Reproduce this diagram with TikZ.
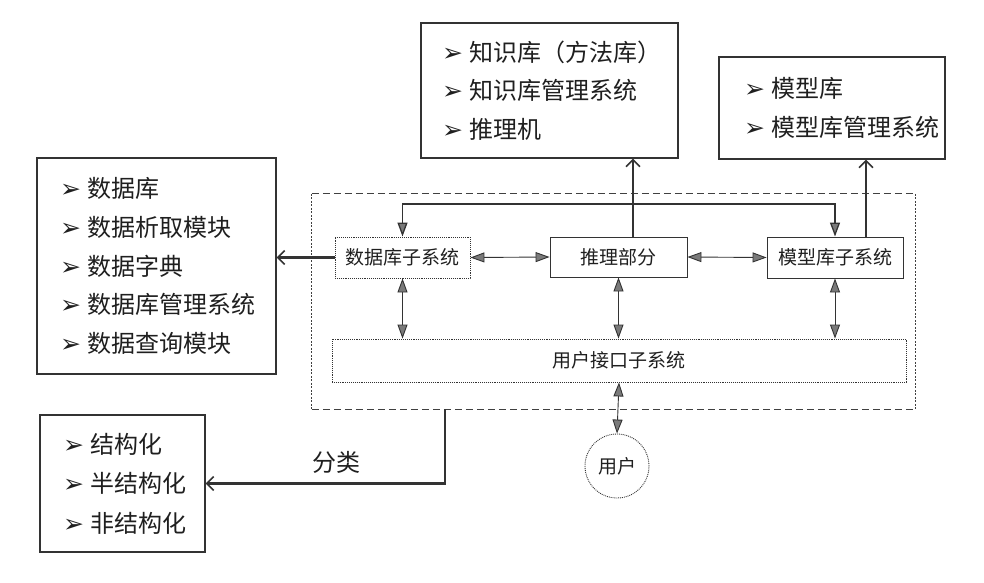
\documentclass[tikz,border=0pt]{standalone}
\usepackage{fontspec}
\setmainfont{Noto Sans CJK SC}
\newfontfamily\bulfont{DejaVu Sans}
\usetikzlibrary{arrows.meta}
\newcommand\listline[1]{\mbox{{\bulfont\fontsize{25}{25}\selectfont ➢}\hspace{7pt}#1}}
\definecolor{linec}{HTML}{333333}
\definecolor{tipc}{HTML}{7A7A7A}
\begin{document}
\begin{tikzpicture}[x=1pt,y=-1pt,
  every node/.style={text=black!88},
  lbox/.style={draw=linec, line width=1.1pt, inner ysep=0pt, inner xsep=23pt, align=left,
    font=\fontsize{24}{38.5}\selectfont},
  sbox/.style={draw=linec, line width=0.9pt, inner sep=0pt, font=\fontsize{19}{19}\selectfont},
  thickarr/.style={draw=linec, line width=2.2pt, -{Straight Barb[length=7pt,width=14pt,line width=1.6pt]}},
  dbl/.style={draw=linec, line width=0.9pt, {Triangle[length=14pt,width=10pt,fill=tipc]}-{Triangle[length=14pt,width=10pt,fill=tipc]}},
  outerline/.style={draw=black!75, line width=1pt}
]
\useasboundingbox (0,0) rectangle (984,582);

% outer dashed frame
\node[minimum width=603pt, minimum height=215pt, inner sep=0pt] (outer) at (613.5,301.5) {};
\draw[outerline, dash pattern=on 7pt off 4pt] (outer.north west) -- (outer.north east);
\draw[outerline, dash pattern=on 7pt off 4pt] (outer.south west) -- (outer.south east);
\draw[outerline, dash pattern=on 2pt off 1.5pt] (outer.north west) -- (outer.south west);
\draw[outerline, dash pattern=on 2pt off 1.5pt] (outer.north east) -- (outer.south east);

% outer list boxes
\node[lbox, inner xsep=21pt, text width=215pt, minimum height=135pt] (know) at (549.5,90.5)
  {\listline{知识库（方法库）}\\ \listline{知识库管理系统}\\ \listline{推理机}};
\node[lbox, inner xsep=25pt, text width=176pt, minimum height=102pt] (model) at (832,108)
  {\listline{模型库}\\ \listline{模型库管理系统}};
\node[lbox, text width=193pt, minimum height=216pt, font=\fontsize{24}{38.8}\selectfont] (data) at (156.5,266)
  {\listline{数据库}\\ \listline{数据析取模块}\\ \listline{数据字典}\\ \listline{数据库管理系统}\\ \listline{数据查询模块}};
\node[lbox, text width=119pt, minimum height=137pt, font=\fontsize{24}{39.5}\selectfont] (cat) at (122.5,483.5)
  {\listline{结构化}\\ \listline{半结构化}\\ \listline{非结构化}};

% inner boxes
\node[sbox, densely dotted, minimum width=135pt, minimum height=41pt] (dbs) at (402.5,257.5) {数据库子系统};
\node[sbox, minimum width=137pt, minimum height=40pt] (reason) at (618.5,257) {推理部分};
\node[sbox, minimum width=136pt, minimum height=41pt] (mod) at (835,257.5) {模型库子系统};
\node[sbox, densely dotted, minimum width=574pt, minimum height=43pt] (ui) at (619,360.5) {用户接口子系统};
\node[sbox, densely dotted, circle, minimum size=64pt] (user) at (617,466) {用户};

% label
\node[font=\fontsize{24}{24}\selectfont] (fenlei) at (336,462) {分类};

% connectors
\coordinate (looptop) at (0,204);
\coordinate (clsx) at (445,0);
\draw[thickarr] (dbs.west) -- (dbs.west -| data.east);
\draw[thickarr] ([xshift=14.5pt]reason.north) -- ([xshift=14.5pt]reason.north |- know.south);
\draw[thickarr] ([xshift=31pt]mod.north) -- ([xshift=31pt]mod.north |- model.south);
\draw[dbl, line width=1.3pt] (dbs.north) -- (dbs.north |- looptop) -| (mod.north);
\draw[dbl] (dbs.east) -- (reason.west);
\draw[dbl] (reason.east) -- (mod.west);
\draw[dbl] (dbs.south) -- (dbs.south |- ui.north);
\draw[dbl] (reason.south) -- (reason.south |- ui.north);
\draw[dbl] (mod.south) -- (mod.south |- ui.north);
\draw[dbl] (ui.south) -- (user.north);
\draw[thickarr] (clsx |- outer.south) |- (cat.east);
\end{tikzpicture}
\end{document}
